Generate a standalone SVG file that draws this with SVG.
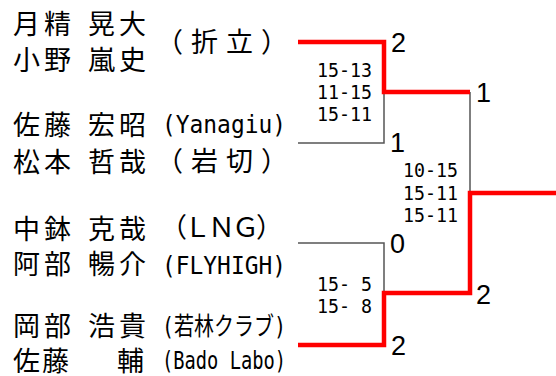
<svg xmlns="http://www.w3.org/2000/svg" width="556" height="376" viewBox="0 0 556 376">
<style>
.nm{font-family:"Noto Sans CJK JP",sans-serif;font-size:27px;letter-spacing:4px;fill:#000}
.fw{font-family:"Noto Sans CJK JP",sans-serif;font-size:27px;fill:#000}
.hw{font-family:"DejaVu Sans Mono","Noto Sans CJK JP",monospace;font-size:25px;fill:#000}
.sc{font-family:"DejaVu Sans Mono","Liberation Mono",monospace;font-size:20px;fill:#000}
.res{font-family:"Liberation Sans",Arial,sans-serif;font-size:27px;fill:#000}
.win{stroke:#ff0000;stroke-width:4.5;fill:none}
.lose{stroke:#555;stroke-width:1.5;fill:none}
</style>
<rect width="556" height="376" fill="#fff"/>
<g id="connectors">
  <polyline class="lose" points="298,143 384,143 384,92"/>
  <polyline class="lose" points="298,243 384,243 384,293"/>
  <line class="lose" x1="470" y1="92" x2="470" y2="193"/>
  <polyline class="win" points="298,42 384,42 384,92 470,92"/>
  <polyline class="win" points="298,345 384,345 384,293 470,293 470,193 556,193"/>
</g>
<g id="team1">
  <text class="nm" x="13" y="34">月精</text><text class="nm" x="88" y="34">晃大</text>
  <text class="nm" x="13" y="70">小野</text><text class="nm" x="88" y="70">嵐史</text>
  <text class="fw" x="156" y="52" letter-spacing="8">（折立）</text>
</g>
<g id="team2">
  <text class="nm" x="13" y="135">佐藤</text><text class="nm" x="88" y="135">宏昭</text>
  <text class="hw" x="162" y="133" textLength="124" lengthAdjust="spacingAndGlyphs">(Yanagiu)</text>
  <text class="nm" x="13" y="172">松本</text><text class="nm" x="88" y="172">哲哉</text>
  <text class="fw" x="156" y="171" letter-spacing="8">（岩切）</text>
</g>
<g id="team3">
  <text class="nm" x="13" y="239">中鉢</text><text class="nm" x="88" y="239">克哉</text>
  <text class="fw" x="160" y="237" letter-spacing="-3">（ＬＮＧ）</text>
  <text class="nm" x="13" y="274">阿部</text><text class="nm" x="88" y="274">暢介</text>
  <text class="hw" x="162" y="274" textLength="124" lengthAdjust="spacingAndGlyphs">(FLYHIGH)</text>
</g>
<g id="team4">
  <text class="nm" x="13" y="336">岡部</text><text class="nm" x="88" y="336">浩貴</text>
  <text class="hw" x="162" y="335" textLength="124" lengthAdjust="spacingAndGlyphs">(若林クラブ)</text>
  <text class="nm" x="13" y="371">佐</text><text class="nm" x="42" y="371">藤</text><text class="nm" x="117" y="371">輔</text>
  <text class="hw" x="162" y="369" textLength="124" lengthAdjust="spacingAndGlyphs">(Bado Labo)</text>
</g>
<g id="scores">
  <text class="sc" x="317" y="77" textLength="55" lengthAdjust="spacingAndGlyphs">15-13</text>
  <text class="sc" x="317" y="99" textLength="55" lengthAdjust="spacingAndGlyphs">11-15</text>
  <text class="sc" x="317" y="121" textLength="55" lengthAdjust="spacingAndGlyphs">15-11</text>
  <text class="sc" x="403" y="177" textLength="55" lengthAdjust="spacingAndGlyphs">10-15</text>
  <text class="sc" x="403" y="200" textLength="55" lengthAdjust="spacingAndGlyphs">15-11</text>
  <text class="sc" x="403" y="222" textLength="55" lengthAdjust="spacingAndGlyphs">15-11</text>
  <text class="sc" x="317" y="291" textLength="55" lengthAdjust="spacingAndGlyphs" xml:space="preserve">15- 5</text>
  <text class="sc" x="317" y="313" textLength="55" lengthAdjust="spacingAndGlyphs" xml:space="preserve">15- 8</text>
  <text class="res" x="391" y="52">2</text>
  <text class="res" x="390" y="152">1</text>
  <text class="res" x="476" y="102">1</text>
  <text class="res" x="390" y="253">0</text>
  <text class="res" x="476" y="304">2</text>
  <text class="res" x="391" y="355">2</text>
</g>
</svg>
